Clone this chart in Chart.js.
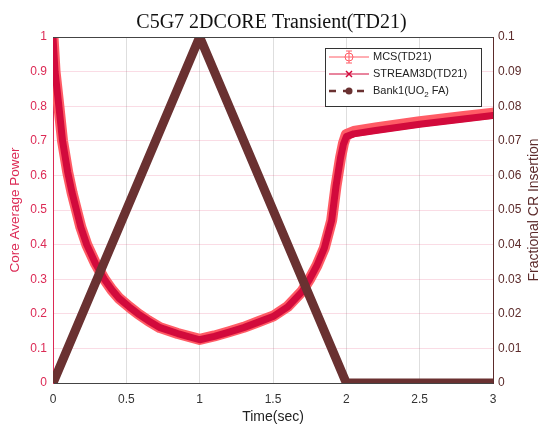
<!DOCTYPE html>
<html>
<head>
<meta charset="utf-8">
<script src="https://cdn.jsdelivr.net/npm/chart.js@4/dist/chart.umd.min.js"></script>
<style>
  html, body { margin: 0; padding: 0; background: #fff; }
  #wrap { width: 543px; height: 426px; }
</style>
</head>
<body>
<div id="wrap"><canvas id="td21Chart"></canvas></div>
<script>
// Core power (left axis) vs time
const timePts = [0, 0.014, 0.04, 0.065, 0.1, 0.13, 0.16, 0.19, 0.23, 0.29, 0.35, 0.4, 0.45, 0.52, 0.58, 0.65, 0.73, 0.85, 1.0, 1.1, 1.2, 1.3, 1.4, 1.5, 1.6, 1.7, 1.75, 1.8, 1.85, 1.9, 1.93, 1.96, 1.98, 2.0, 2.05, 2.2, 2.5, 2.8, 3.0];
const streamPower = [1.0, 0.9, 0.8, 0.7, 0.61, 0.55, 0.5, 0.45, 0.4, 0.345, 0.3, 0.27, 0.245, 0.22, 0.2, 0.18, 0.16, 0.143, 0.125, 0.135, 0.147, 0.16, 0.176, 0.192, 0.22, 0.265, 0.3, 0.34, 0.39, 0.47, 0.57, 0.65, 0.69, 0.712, 0.72, 0.73, 0.748, 0.763, 0.773];
const mcsPower = [1.0, 0.9, 0.8, 0.7, 0.61, 0.55, 0.5, 0.45, 0.4, 0.345, 0.3, 0.27, 0.245, 0.22, 0.2, 0.18, 0.16, 0.143, 0.126, 0.136, 0.148, 0.161, 0.177, 0.193, 0.221, 0.266, 0.3, 0.34, 0.39, 0.47, 0.57, 0.65, 0.692, 0.718, 0.727, 0.737, 0.755, 0.77, 0.78];

// Bank1 control rod insertion (right axis)
const bankTime = [0, 1, 2, 3];
const bankInsertion = [0, 0.1, 0, 0];

const leftTicks = [0, 0.1, 0.2, 0.3, 0.4, 0.5, 0.6, 0.7, 0.8, 0.9, 1];
const rightTicks = [0, 0.01, 0.02, 0.03, 0.04, 0.05, 0.06, 0.07, 0.08, 0.09, 0.1];
const timeTicks = [0, 0.5, 1, 1.5, 2, 2.5, 3];

const leftColor = '#dc2a55';
const rightColor = '#5c2b2b';
const mcsColor = '#ff5c66';
const streamColor = '#d20a3c';
const bankColor = '#6a3131';
const sans = '"Liberation Sans", Arial, sans-serif';

const toXY = (xs, ys) => xs.map((x, i) => ({ x: x, y: ys[i] }));
const plainNum = (v) => String(+Number(v).toFixed(3));

// legend box, frame line and axis titles (MATLAB style)
const boxLegend = {
  id: 'boxLegend',
  afterDraw(chart) {
    const ctx = chart.ctx;
    const area = chart.chartArea;
    ctx.save();
    // top frame line
    ctx.strokeStyle = '#444';
    ctx.lineWidth = 1;
    ctx.beginPath();
    ctx.moveTo(area.left, area.top + 0.5);
    ctx.lineTo(area.right, area.top + 0.5);
    ctx.stroke();

    // y axis titles, both read bottom to top
    const midY = (area.top + area.bottom) / 2;
    ctx.textAlign = 'center';
    ctx.textBaseline = 'middle';
    ctx.save();
    ctx.translate(15, midY);
    ctx.rotate(-Math.PI / 2);
    ctx.font = '13.5px ' + sans;
    ctx.fillStyle = leftColor;
    ctx.fillText('Core Average Power', 0, 0);
    ctx.restore();
    ctx.save();
    ctx.translate(534, midY);
    ctx.rotate(-Math.PI / 2);
    ctx.font = '14px ' + sans;
    ctx.fillStyle = rightColor;
    ctx.fillText('Fractional CR Insertion', 0, 0);
    ctx.restore();
    ctx.textAlign = 'left';

    const bx = 325, by = 48, bw = 156, bh = 58;
    ctx.fillStyle = '#fff';
    ctx.fillRect(bx, by, bw, bh);
    ctx.strokeStyle = '#333';
    ctx.strokeRect(bx + 0.5, by + 0.5, bw, bh);

    ctx.font = '11px ' + sans;
    ctx.textBaseline = 'middle';
    ctx.fillStyle = '#222';

    // MCS
    let y = 57;
    ctx.strokeStyle = mcsColor;
    ctx.lineWidth = 1;
    ctx.beginPath(); ctx.moveTo(329, y); ctx.lineTo(369, y); ctx.stroke();
    ctx.beginPath(); ctx.arc(349, y, 4, 0, Math.PI * 2); ctx.stroke();
    ctx.beginPath(); ctx.moveTo(349, y - 6); ctx.lineTo(349, y + 6);
    ctx.moveTo(346, y - 6); ctx.lineTo(352, y - 6);
    ctx.moveTo(346, y + 6); ctx.lineTo(352, y + 6); ctx.stroke();
    ctx.fillText('MCS(TD21)', 373, y);

    // STREAM3D
    y = 74;
    ctx.strokeStyle = streamColor;
    ctx.beginPath(); ctx.moveTo(329, y); ctx.lineTo(369, y); ctx.stroke();
    ctx.lineWidth = 1.5;
    ctx.beginPath(); ctx.moveTo(346, y - 3); ctx.lineTo(352, y + 3);
    ctx.moveTo(346, y + 3); ctx.lineTo(352, y - 3); ctx.stroke();
    ctx.fillText('STREAM3D(TD21)', 373, y);

    // Bank1
    y = 91;
    ctx.strokeStyle = bankColor;
    ctx.lineWidth = 2.5;
    ctx.setLineDash([7, 7]);
    ctx.beginPath(); ctx.moveTo(329, y); ctx.lineTo(369, y); ctx.stroke();
    ctx.setLineDash([]);
    ctx.fillStyle = bankColor;
    ctx.beginPath(); ctx.arc(349, y, 3.5, 0, Math.PI * 2); ctx.fill();
    ctx.fillStyle = '#222';
    let tx = 373;
    const parts = ['Bank1(UO', '2', ' FA)'];
    ctx.fillText(parts[0], tx, y);
    tx += ctx.measureText(parts[0]).width;
    ctx.font = '8px ' + sans;
    ctx.fillText(parts[1], tx, y + 4);
    tx += ctx.measureText(parts[1]).width;
    ctx.font = '11px ' + sans;
    ctx.fillText(parts[2], tx, y);
    ctx.restore();
  }
};

const ctx = document.getElementById('td21Chart').getContext('2d');
const td21Chart = new Chart(ctx, {
  type: 'line',
  data: {
    datasets: [
      {
        label: 'Bank1(UO2 FA)',
        data: toXY(bankTime, bankInsertion),
        yAxisID: 'yRight',
        borderColor: bankColor,
        borderWidth: 9,
        borderCapStyle: 'round',
        borderJoinStyle: 'round',
        pointRadius: 0,
        tension: 0,
        order: 0
      },
      {
        label: 'STREAM3D(TD21)',
        data: toXY(timePts, streamPower),
        yAxisID: 'yLeft',
        borderColor: streamColor,
        borderWidth: 7,
        borderCapStyle: 'round',
        borderJoinStyle: 'round',
        pointRadius: 0,
        tension: 0,
        order: 1
      },
      {
        label: 'MCS(TD21)',
        data: toXY(timePts, mcsPower),
        yAxisID: 'yLeft',
        borderColor: mcsColor,
        borderWidth: 11,
        borderCapStyle: 'round',
        borderJoinStyle: 'round',
        pointRadius: 0,
        tension: 0,
        order: 2
      }
    ]
  },
  options: {
    responsive: true,
    maintainAspectRatio: false,
    animation: false,
    layout: { padding: 0 },
    plugins: {
      legend: { display: false },
      tooltip: { enabled: false },
      title: {
        display: true,
        text: 'C5G7 2DCORE Transient(TD21)',
        color: '#111',
        font: { family: '"Liberation Serif", "Times New Roman", serif', size: 20, weight: 'normal' },
        padding: { top: 11, bottom: 2 }
      }
    },
    scales: {
      x: {
        type: 'linear',
        min: 0,
        max: 3,
        afterBuildTicks: (axis) => { axis.ticks = timeTicks.map(v => ({ value: v })); },
        afterFit: (axis) => { axis.height = 43; },
        ticks: {
          color: '#333',
          font: { family: sans, size: 12 },
          padding: 9,
          maxRotation: 0,
          callback: plainNum
        },
        grid: { color: 'rgba(0,0,0,0.13)', drawTicks: false },
        border: { color: '#444' },
        title: {
          display: true,
          text: 'Time(sec)',
          color: '#222',
          font: { family: sans, size: 14 },
          padding: { top: 0, bottom: 0 }
        }
      },
      yLeft: {
        type: 'linear',
        position: 'left',
        min: 0,
        max: 1,
        afterBuildTicks: (axis) => { axis.ticks = leftTicks.map(v => ({ value: v })); },
        afterFit: (axis) => { axis.width = 53; },
        ticks: {
          color: leftColor,
          font: { family: sans, size: 12 },
          padding: 6,
          callback: plainNum
        },
        grid: { color: 'rgba(225,60,110,0.18)', drawTicks: false },
        border: { color: leftColor }
      },
      yRight: {
        type: 'linear',
        position: 'right',
        min: 0,
        max: 0.1,
        afterBuildTicks: (axis) => { axis.ticks = rightTicks.map(v => ({ value: v })); },
        afterFit: (axis) => { axis.width = 50; },
        ticks: {
          color: rightColor,
          font: { family: sans, size: 12 },
          padding: 5,
          callback: plainNum
        },
        grid: { display: false, drawTicks: false },
        border: { color: rightColor }
      }
    }
  },
  plugins: [boxLegend]
});
</script>
</body>
</html>
